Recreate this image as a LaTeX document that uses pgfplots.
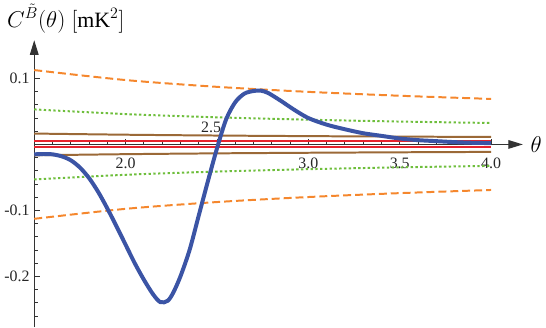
\documentclass[border=0pt]{standalone}
\usepackage{fontspec}
\setmainfont{Liberation Serif}
\usepackage{pgfplots}
\pgfplotsset{compat=1.18}
\usetikzlibrary{arrows.meta}

\definecolor{mblue}{RGB}{59,84,165}
\definecolor{morange}{RGB}{245,135,45}
\definecolor{mgreen}{RGB}{110,190,60}
\definecolor{mbrown}{RGB}{155,105,55}
\definecolor{mred}{RGB}{230,35,45}

\begin{document}
\begin{tikzpicture}
\begin{axis}[
    scale only axis,
    width=369pt, height=216.75pt,
    xmin=1.5, xmax=4.174,
    ymin=-0.277, ymax=0.158,
    axis x line=middle,
    axis y line=left,
    axis line style={black!80, line width=0.9pt},
    every inner x axis line/.append style={-{Triangle[length=11pt,width=6.5pt]}},
    every outer y axis line/.append style={-{Triangle[length=11pt,width=6.5pt]}},
    tick align=inside,
    major tick length=4pt,
    minor tick length=2.5pt,
    tick style={black!80, line width=0.6pt},
    xtick={2,2.5,3,3.5,4},
    % the 2.5 label sits above the axis, as in the original
    xticklabels={2.0,\raisebox{19pt}[0pt][0pt]{\makebox[0pt]{\kern-9pt 2.5}},3.0,3.5,4.0},
    minor xtick={1.6,1.7,1.8,1.9,2.1,2.2,2.3,2.4,2.6,2.7,2.8,2.9,3.1,3.2,3.3,3.4,3.6,3.7,3.8,3.9},
    ytick={-0.2,-0.1,0.1},
    yticklabels={-0.2,-0.1,0.1},
    minor ytick={-0.26,-0.24,-0.22,-0.18,-0.16,-0.14,-0.12,-0.08,-0.06,-0.04,-0.02,0.02,0.04,0.06,0.08},
    x tick label style={anchor=north, yshift=-6.5pt},
    tick label style={font=\fontsize{12}{14}\selectfont, text=black!85},
    /pgf/number format/assume math mode=true,
    xlabel={$\theta$},
    ylabel={$C^{\tilde{B}}(\theta)\;[\mathrm{mK}^2]$},
    every axis x label/.style={at={(axis cs:4.174,0)}, anchor=west, xshift=2.25pt,
        font=\fontsize{18}{20}\selectfont},
    every axis y label/.style={at={(axis description cs:0,1)}, anchor=base west,
        xshift=-24pt, yshift=9.75pt, font=\fontsize{16.5}{19}\selectfont},
]

% orange dashed envelope
\addplot[morange, line width=1.5pt, dash pattern=on 6pt off 3pt, smooth] coordinates {
(1.5,0.1127) (2.0,0.0976) (2.5,0.0873) (3.0,0.0797) (3.5,0.0738) (4.0,0.0690)};
\addplot[morange, line width=1.5pt, dash pattern=on 6pt off 3pt, smooth] coordinates {
(1.5,-0.1127) (2.0,-0.0976) (2.5,-0.0873) (3.0,-0.0797) (3.5,-0.0738) (4.0,-0.0690)};

% green dotted envelope
\addplot[mgreen, line width=1.5pt, dash pattern=on 1.8pt off 1.8pt, smooth] coordinates {
(1.5,0.0531) (2.0,0.0460) (2.5,0.0411) (3.0,0.0375) (3.5,0.0347) (4.0,0.0325)};
\addplot[mgreen, line width=1.5pt, dash pattern=on 1.8pt off 1.8pt, smooth] coordinates {
(1.5,-0.0531) (2.0,-0.0460) (2.5,-0.0411) (3.0,-0.0375) (3.5,-0.0347) (4.0,-0.0325)};

% brown
\addplot[mbrown, line width=1.5pt, smooth] coordinates {
(1.5,0.0165) (2.0,0.01475) (2.5,0.0135) (3.0,0.0126) (3.5,0.0119) (4.0,0.0113)};
\addplot[mbrown, line width=1.5pt, smooth] coordinates {
(1.5,-0.0165) (2.0,-0.01475) (2.5,-0.0135) (3.0,-0.0126) (3.5,-0.0119) (4.0,-0.0113)};

% red
\addplot[mred, line width=1.5pt] coordinates {(1.5,0.0045) (4.0,0.0045)};
\addplot[mred, line width=1.5pt] coordinates {(1.5,-0.0045) (4.0,-0.0045)};

% blue correlation
\addplot[mblue, line width=3pt, smooth] coordinates {
(1.50,-0.0150) (1.55,-0.0145) (1.60,-0.0150) (1.65,-0.0180) (1.70,-0.0240)
(1.75,-0.0350) (1.80,-0.0510) (1.85,-0.0720) (1.90,-0.0970) (1.95,-0.1240)
(2.00,-0.1520) (2.05,-0.1800) (2.10,-0.2050) (2.15,-0.2270) (2.19,-0.2390)
(2.23,-0.2370) (2.26,-0.2250) (2.30,-0.2000) (2.35,-0.1600) (2.40,-0.1080)
(2.45,-0.0560) (2.50,-0.0060) (2.55,0.0380) (2.60,0.0640) (2.65,0.0770)
(2.70,0.0810) (2.74,0.0815) (2.78,0.0780) (2.85,0.0660) (2.92,0.0530)
(3.00,0.0400) (3.10,0.0300) (3.20,0.0230) (3.30,0.0170) (3.40,0.0130)
(3.50,0.0090) (3.60,0.0065) (3.70,0.0050) (3.80,0.0035) (3.90,0.0025)
(4.00,0.0020)};

\end{axis}
\end{tikzpicture}
\end{document}
